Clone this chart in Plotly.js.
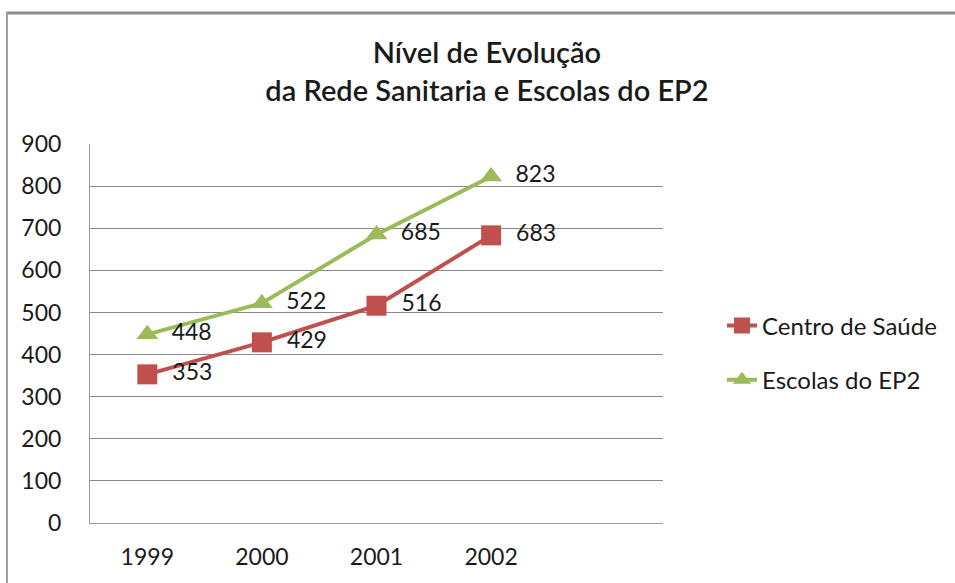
<!DOCTYPE html>
<html>
<head>
<meta charset="utf-8">
<script src="https://cdn.plot.ly/plotly-3.0.1.min.js"></script>
<style>html,body{margin:0;padding:0;background:#fff;}#chart{width:955px;height:583px;}</style>
</head>
<body>
<div id="chart"></div>
<script>
const years = ["1999", "2000", "2001", "2002"];
const centroSaude = [353, 429, 516, 683];
const escolasEP2 = [448, 522, 685, 823];
const seriesNames = ["Centro de Saúde", "Escolas do EP2"];
const titleText = "Nível de Evolução<br>da Rede Sanitaria e Escolas do EP2";

const FONT = "Lato, 'Open Sans', sans-serif";
const red = "#C0504D", green = "#9BBB59";

const traces = [
  {
    x: years, y: centroSaude, name: seriesNames[0], legendgroup: "a",
    type: "scatter", mode: "lines+markers+text",
    line: {color: red, width: 4},
    marker: {symbol: "square", size: 20, color: red},
    texttemplate: "\u2002%{y}", textposition: "middle right",
    textfont: {family: FONT, size: 23, color: "#1a1a1a"},
    cliponaxis: false, hoverinfo: "x+y"
  },
  {
    x: years, y: escolasEP2, name: seriesNames[1], legendgroup: "b",
    type: "scatter", mode: "lines+markers+text",
    line: {color: green, width: 4},
    marker: {symbol: "triangle-up", size: 19, color: green},
    texttemplate: "\u2002%{y}", textposition: "middle right",
    textfont: {family: FONT, size: 23, color: "#1a1a1a"},
    cliponaxis: false, hoverinfo: "x+y"
  }
];

const px = v => (v - 90) / 573;
const py = v => (523 - v) / 379;

const layout = {
  width: 955, height: 583,
  margin: {l: 90, r: 292, t: 144, b: 60},
  paper_bgcolor: "#fff", plot_bgcolor: "#fff",
  font: {family: FONT, color: "#1a1a1a"},
  title: {
    text: titleText,
    x: 487 / 955, xanchor: "center", xref: "container",
    y: 1 - 63 / 583, yanchor: "top", yref: "container",
    font: {family: FONT, size: 29, weight: 600, color: "#1a1a1a"}
  },
  xaxis: {
    type: "category", range: [-0.5, 4.5],
    showgrid: false, zeroline: false,
    showline: true, linecolor: "#9a9a9a", linewidth: 1,
    ticks: "", ticklabelstandoff: 13,
    tickfont: {family: FONT, size: 23, color: "#1a1a1a"},
    fixedrange: true
  },
  yaxis: {
    range: [0, 900], dtick: 100, tick0: 0,
    showgrid: true, gridcolor: "#8a8a8a", gridwidth: 1,
    zeroline: false, showline: true, linecolor: "#9a9a9a", linewidth: 1,
    ticks: "", ticklabelstandoff: 23,
    tickfont: {family: FONT, size: 23, color: "#1a1a1a"},
    fixedrange: true
  },
  showlegend: true,
  legend: {
    x: px(722), xanchor: "left", y: py(353), yanchor: "middle",
    font: {family: FONT, size: 24, color: "#1a1a1a"},
    tracegroupgap: 20, bgcolor: "rgba(0,0,0,0)"
  },
  shapes: [
    {type: "line", xref: "paper", yref: "paper", x0: px(6), x1: px(960), y0: py(13), y1: py(13), line: {color: "#8c8c8c", width: 3}},
    {type: "line", xref: "paper", yref: "paper", x0: px(7), x1: px(7), y0: py(12), y1: py(590), line: {color: "#a0a0a0", width: 2}}
  ]
};

Plotly.newPlot("chart", traces, layout, {displayModeBar: false, staticPlot: true});
</script>
</body>
</html>
